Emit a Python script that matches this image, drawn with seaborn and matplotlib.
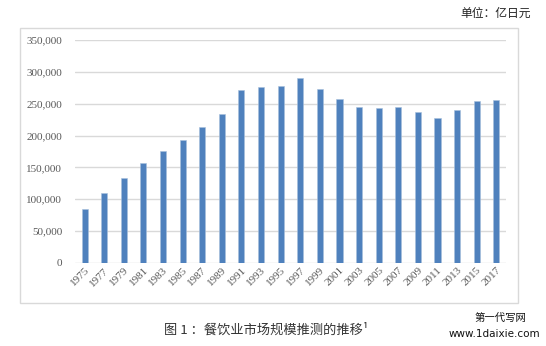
import matplotlib
matplotlib.use("Agg")
import matplotlib.pyplot as plt
import matplotlib.patches as patches
from matplotlib.ticker import FuncFormatter
import seaborn as sns
import pandas as pd

# restaurant market size estimate, 100 million yen
years = [str(y) for y in range(1975, 2018, 2)]
market_size = [85200, 109700, 133700, 156700, 176000, 192300, 213000, 234000,
               271700, 276900, 278000, 290500, 272700, 257600, 245000, 243500,
               245000, 236700, 227800, 239800, 253900, 256000]
y_ticks = [0, 50000, 100000, 150000, 200000, 250000, 300000, 350000]

df = pd.DataFrame({"year": years, "size": market_size})

sns.set_theme(style="white")
plt.rcParams['font.family'] = ['Noto Sans CJK SC', 'DejaVu Sans']

fig = plt.figure(figsize=(5.46, 3.46), dpi=100)
ax = fig.add_axes([0.137, 0.2399, 0.79, 0.6445])

# outer chart frame
frame = patches.Rectangle((0.0366, 0.1243), 0.912, 0.795, transform=fig.transFigure,
                          fill=False, edgecolor="#d9d9d9", linewidth=1.0, zorder=0)
fig.patches.append(frame)

sns.barplot(data=df, x="year", y="size", color="#4F81BD", width=0.31,
            saturation=1, edgecolor="#a7bfdc", linewidth=0.4, ax=ax)

ax.set_xlim(-0.5, len(years) - 0.5)
ax.set_ylim(0, 350000)
ax.set_yticks(y_ticks)
ax.yaxis.set_major_formatter(FuncFormatter(lambda v, p: f"{int(v):,}"))
ax.grid(axis="y", color="#d9d9d9", linewidth=1.0)
ax.set_axisbelow(True)
for s in ax.spines.values():
    s.set_visible(False)
ax.set_xlabel("")
ax.set_ylabel("")
ax.tick_params(axis="both", length=0, labelsize=8, colors="#595959")
ax.tick_params(axis="y", pad=9)
ax.tick_params(axis="x", pad=2)
for lab in ax.get_yticklabels():
    lab.set_family("Liberation Serif")
for lab in ax.get_xticklabels():
    lab.set_family("Liberation Serif")
    lab.set_rotation(45)
    lab.set_ha("right")
    lab.set_rotation_mode("anchor")

fig.text(0.972, 0.962, "单位：亿日元", ha="right", va="center", fontsize=8.5, color="#222222")
fig.text(0.30, 0.047, "图 1 ：餐饮业市场规模推测的推移¹", ha="left", va="center",
         fontsize=9.5, color="#333333")
fig.text(0.965, 0.082, "第一代写网", ha="right", va="center", fontsize=7.5, color="#111111")
fig.text(0.99, 0.036, "www.1daixie.com", ha="right", va="center", fontsize=7.5, color="#111111",
         family="DejaVu Sans")

fig.savefig("out.png", dpi=100)
